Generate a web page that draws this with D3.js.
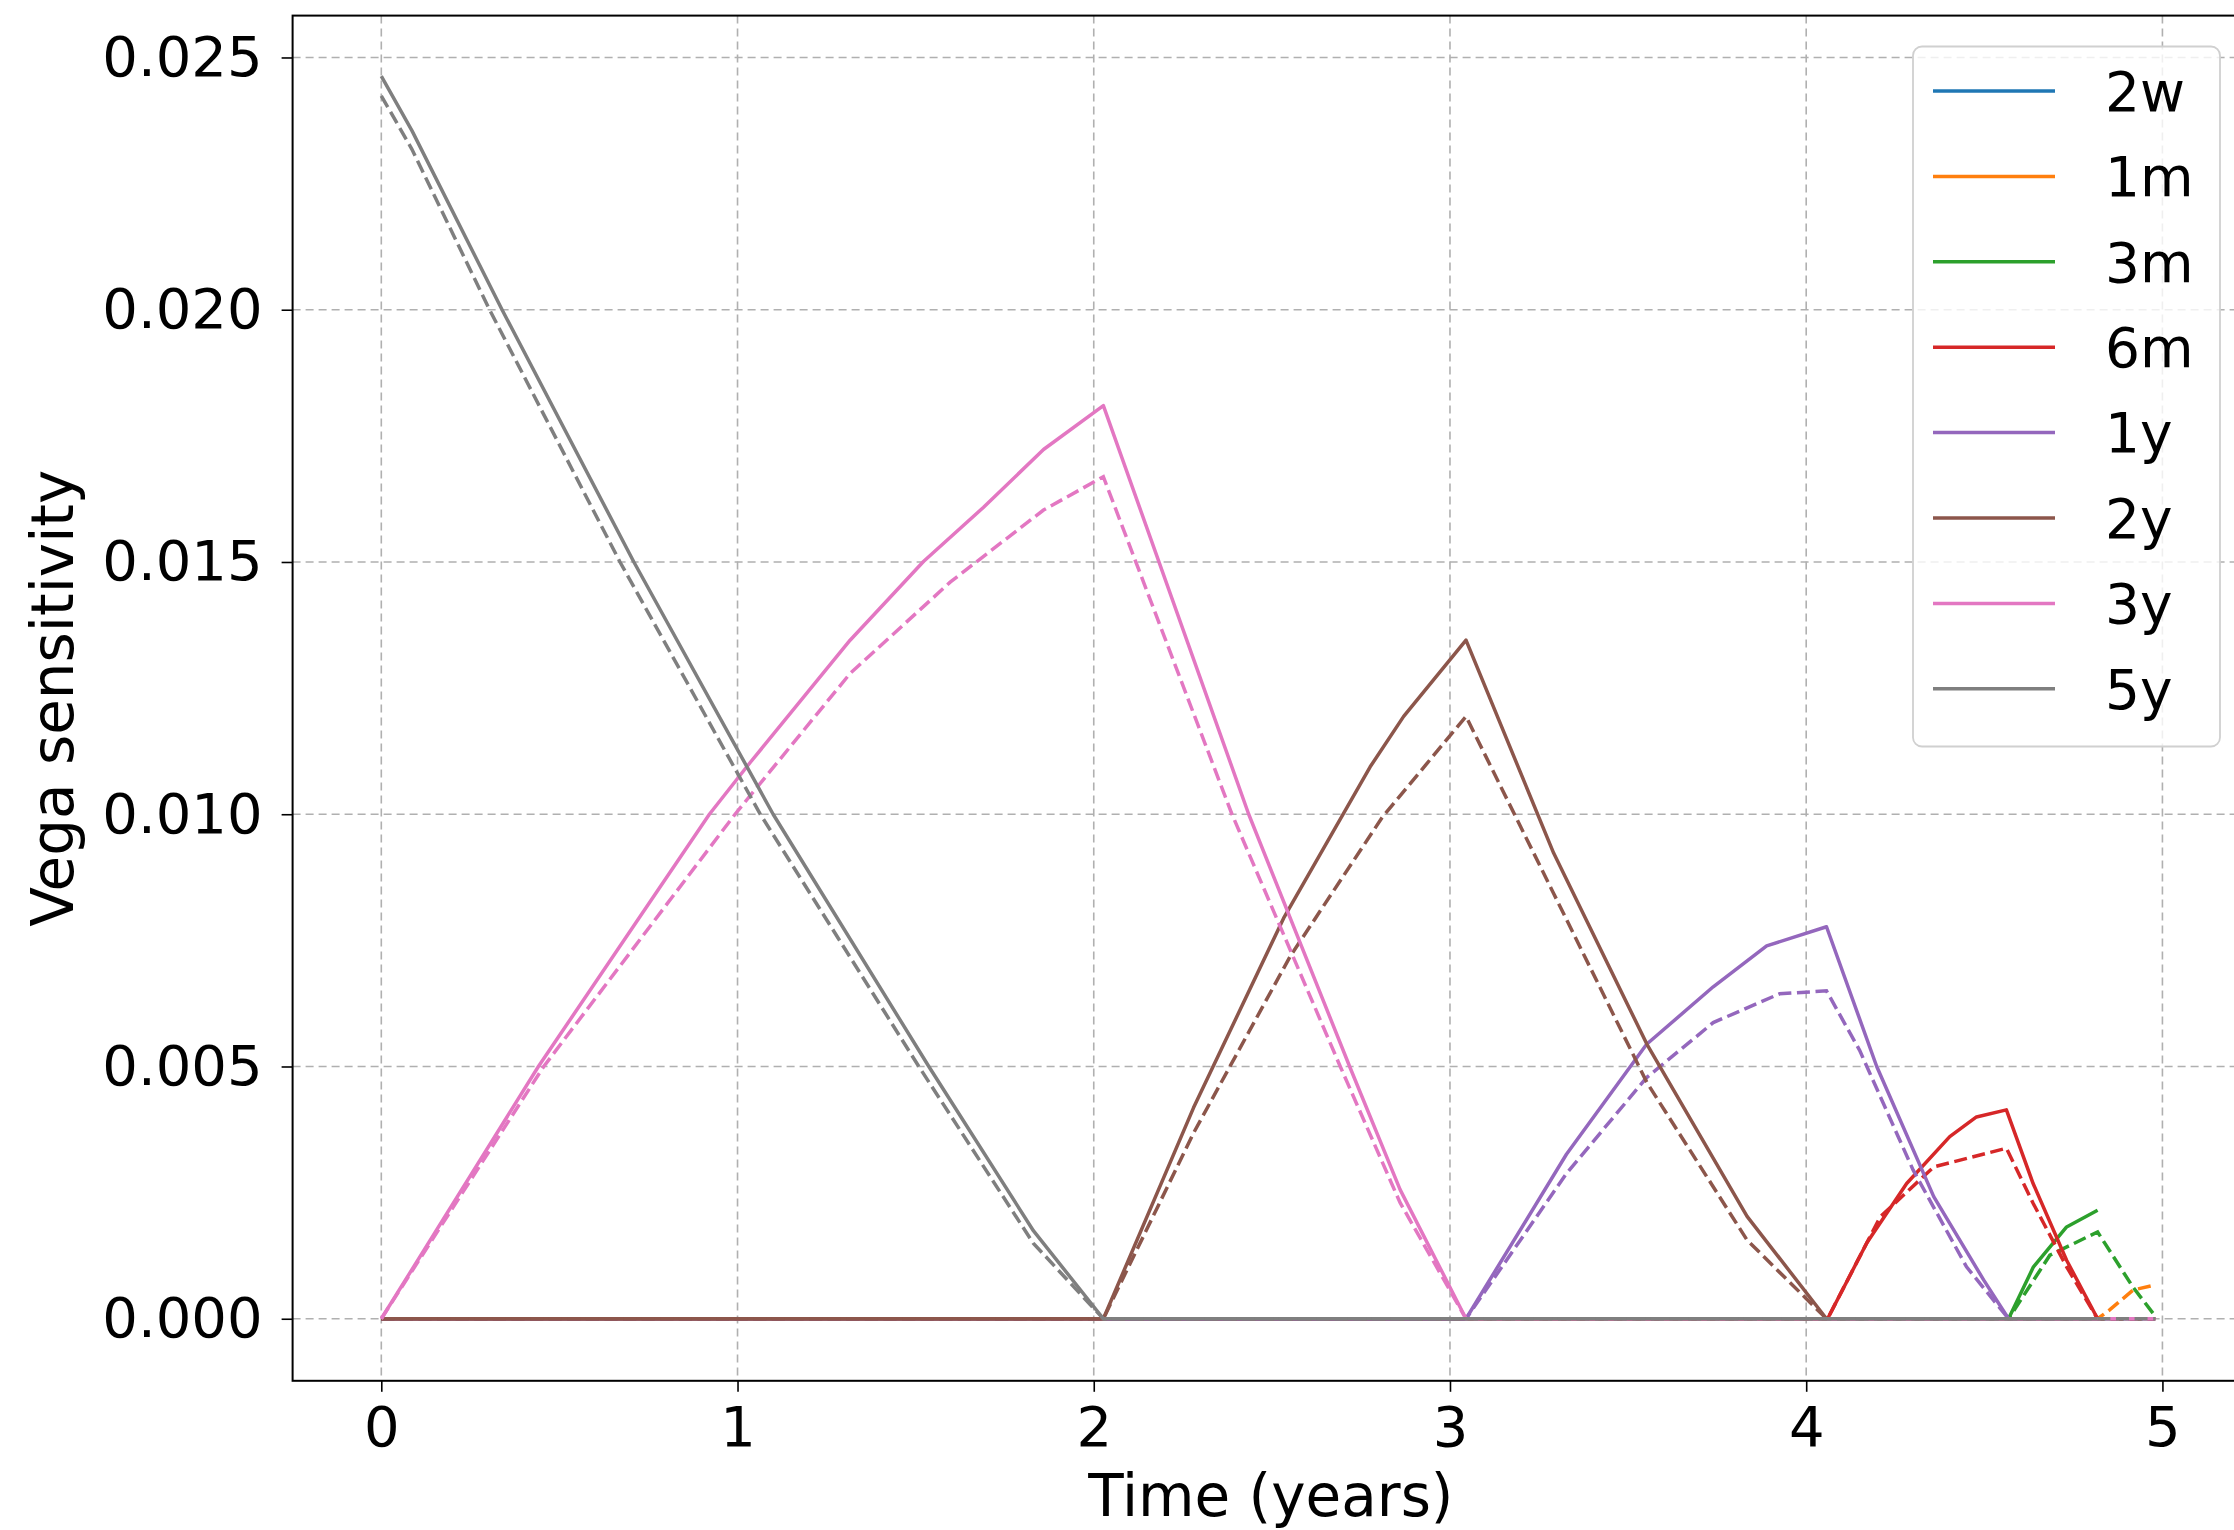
<!DOCTYPE html>
<html>
<head>
<meta charset="utf-8">
<script src="https://cdn.jsdelivr.net/npm/d3@7"></script>
<style>
body { margin: 0; background: #fff; }
text { font-family: "DejaVu Sans", sans-serif; }
</style>
</head>
<body>
<div id="graph"></div>
<script>
// buckets and tab10 colours
const labels = ["2w", "1m", "3m", "6m", "1y", "2y", "3y", "5y"];
const colors = ["#1f77b4", "#ff7f0e", "#2ca02c", "#d62728", "#9467bd", "#8c564b", "#e377c2", "#7f7f7f"];

const xTicks = [0, 1, 2, 3, 4, 5];
const yTicks = [0, 0.005, 0.010, 0.015, 0.020, 0.025];

// [time, vega], solid lines
const solid2w = [[0, 0], [4.818, 0]];
const solid1m = [[0, 0], [4.818, 0]];
const solid3m = [[0, 0], [4.568, 0], [4.638, 0.00103], [4.731, 0.00182], [4.818, 0.00215]];
const solid6m = [[0, 0], [4.06, 0], [4.17, 0.0015], [4.282, 0.00268], [4.403, 0.00361], [4.478, 0.0040],
    [4.562, 0.00414], [4.637, 0.00268], [4.731, 0.00116], [4.818, 0]];
const solid1y = [[0, 0], [3.045, 0], [3.327, 0.00326], [3.552, 0.00544], [3.739, 0.00658], [3.889, 0.00739],
    [4.057, 0.00777], [4.198, 0.0050], [4.358, 0.00242], [4.498, 0.00077], [4.568, 0], [4.818, 0]];
const solid2y = [[0, 0], [2.027, 0], [2.28, 0.00418], [2.533, 0.00794], [2.776, 0.01094], [2.87, 0.01194],
    [3.045, 0.01345], [3.291, 0.00923], [3.553, 0.00544], [3.834, 0.00203], [4.057, 0], [4.818, 0]];
const solid3y = [[0, 0], [0.441, 0.0050], [0.921, 0.0100], [1.035, 0.01102], [1.316, 0.01345], [1.522, 0.01501],
    [1.69, 0.01608], [1.859, 0.01723], [2.027, 0.01810], [2.435, 0.0100], [2.72, 0.00497], [2.86, 0.00256],
    [3.045, 0], [4.818, 0]];
const solid5y = [[0, 0.02463], [0.086, 0.02355], [0.339, 0.0200], [0.709, 0.0150], [1.10, 0.0100],
    [1.537, 0.0050], [1.831, 0.00174], [2.027, 0], [4.818, 0]];

// dashed lines
const dashed2w = [[0, 0], [4.98, 0]];
const dashed1m = [[0, 0], [4.818, 0], [4.851, 0.00017], [4.918, 0.00057], [4.98, 0.00067]];
const dashed3m = [[0, 0], [4.568, 0], [4.684, 0.00126], [4.818, 0.00172], [4.917, 0.00063], [4.98, 0.00005]];
const dashed6m = [[0, 0], [4.06, 0], [4.208, 0.00202], [4.358, 0.00301], [4.562, 0.00338], [4.637, 0.00229],
    [4.731, 0.00103], [4.818, 0], [4.98, 0]];
const dashed1y = [[0, 0], [3.045, 0], [3.327, 0.00288], [3.552, 0.00478], [3.739, 0.00587], [3.925, 0.00644],
    [4.057, 0.0065], [4.15, 0.00532], [4.30, 0.00295], [4.45, 0.00103], [4.568, 0], [4.98, 0]];
const dashed2y = [[0, 0], [2.027, 0], [2.28, 0.00368], [2.552, 0.00719], [2.81, 0.00994], [3.045, 0.01194],
    [3.291, 0.00843], [3.553, 0.00468], [3.834, 0.00156], [4.057, 0], [4.98, 0]];
const dashed3y = [[0, 0], [0.456, 0.0050], [0.993, 0.0100], [1.316, 0.01279], [1.597, 0.0146], [1.859, 0.01603],
    [2.027, 0.01669], [2.388, 0.0100], [2.692, 0.0050], [2.86, 0.0023], [3.045, 0], [4.98, 0]];
const dashed5y = [[0, 0.02424], [0.086, 0.02318], [0.304, 0.0200], [0.670, 0.0150], [1.064, 0.0100],
    [1.509, 0.0050], [1.83, 0.0015], [2.027, 0], [4.98, 0]];

const solidSeries = [solid2w, solid1m, solid3m, solid6m, solid1y, solid2y, solid3y, solid5y];
const dashedSeries = [dashed2w, dashed1m, dashed3m, dashed6m, dashed1y, dashed2y, dashed3y, dashed5y];

const total_width = 2234, total_height = 1530;
const margin = {top: 15.6, left: 292.6};
const width = 1951.4, height = 1365.2;

let svg = d3.select("#graph")
    .append("svg")
    .attr("width", total_width)
    .attr("height", total_height)
    .style("display", "block");

let g = svg.append("g")
    .attr("transform", `translate(${margin.left}, ${margin.top})`);

let x = d3.scaleLinear().domain([-0.249, 5.229]).range([0, width]);
let y = d3.scaleLinear().domain([-0.00123, 0.02583]).range([height, 0]);

// grid
g.append("g").selectAll("line")
    .data(xTicks)
    .enter().append("line")
    .attr("x1", d => x(d)).attr("x2", d => x(d))
    .attr("y1", 0).attr("y2", height)
    .attr("stroke", "#b0b0b0").attr("stroke-width", 1.6)
    .attr("stroke-dasharray", "8,5");

g.append("g").selectAll("line")
    .data(yTicks)
    .enter().append("line")
    .attr("x1", 0).attr("x2", width)
    .attr("y1", d => y(d)).attr("y2", d => y(d))
    .attr("stroke", "#b0b0b0").attr("stroke-width", 1.6)
    .attr("stroke-dasharray", "8,5");

// lines
let line = d3.line()
    .x(d => x(d[0]))
    .y(d => y(d[1]));

for (let i = 0; i < labels.length; i++) {
    g.append("path")
        .datum(solidSeries[i])
        .attr("d", line)
        .attr("fill", "none")
        .attr("stroke", colors[i])
        .attr("stroke-width", 3.5)
        .attr("stroke-linejoin", "round");
    g.append("path")
        .datum(dashedSeries[i])
        .attr("d", line)
        .attr("fill", "none")
        .attr("stroke", colors[i])
        .attr("stroke-width", 3.5)
        .attr("stroke-dasharray", "13,5.6");
}

// axes
let xAxis = g.append("g")
    .attr("transform", `translate(0, ${height})`)
    .call(d3.axisBottom(x).tickValues(xTicks).tickFormat(d3.format("d")).tickSize(11).tickPadding(14));

let yAxis = g.append("g")
    .call(d3.axisLeft(y).tickValues(yTicks).tickFormat(d3.format(".3f")).tickSize(11).tickPadding(19));

[xAxis, yAxis].forEach(function(a) {
    a.select(".domain").remove();
    a.selectAll(".tick line").attr("stroke", "#000").attr("stroke-width", 1.6);
    a.selectAll(".tick text")
        .attr("fill", "#000")
        .style("font-family", "'DejaVu Sans', sans-serif")
        .style("font-size", "56px");
});

// spines
g.append("rect")
    .attr("x", 0).attr("y", 0)
    .attr("width", width).attr("height", height)
    .attr("fill", "none")
    .attr("stroke", "#000")
    .attr("stroke-width", 2);

// axis labels
svg.append("text")
    .attr("x", margin.left + x(2.5) - 1)
    .attr("y", 1516)
    .style("text-anchor", "middle")
    .style("font-size", "58px")
    .text("Time (years)");

svg.append("text")
    .attr("transform", `translate(73, ${margin.top + height / 2}) rotate(-90)`)
    .style("text-anchor", "middle")
    .style("font-size", "58px")
    .text("Vega sensitivity");

// legend
let legend = svg.append("g");

legend.append("rect")
    .attr("x", 1913).attr("y", 46.5)
    .attr("width", 307).attr("height", 700)
    .attr("rx", 9).attr("ry", 9)
    .attr("fill", "#fff").attr("fill-opacity", 0.8)
    .attr("stroke", "#d0d0d0").attr("stroke-width", 1.8);

let rows = legend.selectAll("g.row")
    .data(labels)
    .enter().append("g")
    .attr("class", "row")
    .attr("transform", (d, i) => `translate(0, ${91 + i * 85.4})`);

rows.append("line")
    .attr("x1", 1933).attr("x2", 2055)
    .attr("y1", 0).attr("y2", 0)
    .attr("stroke", (d, i) => colors[i])
    .attr("stroke-width", 3.5);

rows.append("text")
    .attr("x", 2105)
    .attr("dy", "0.36em")
    .style("font-size", "55px")
    .text(d => d);
</script>
</body>
</html>
